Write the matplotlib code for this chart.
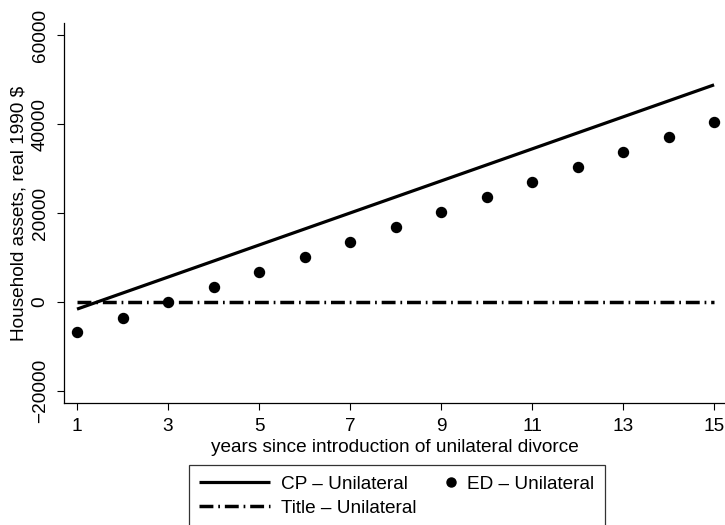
import numpy as np
import matplotlib.pyplot as plt
from matplotlib.lines import Line2D
from matplotlib.legend_handler import HandlerLine2D

plt.rcParams["font.family"] = ["Liberation Sans", "DejaVu Sans"]

years = [1, 2, 3, 4, 5, 6, 7, 8, 9, 10, 11, 12, 13, 14, 15]
cp_unilateral = [-1600, 2000, 5600, 9200, 12800, 16400, 20000, 23600,
                 27200, 30800, 34400, 38000, 41600, 45200, 48800]
ed_unilateral = [-6700, -3500, 0, 3400, 6800, 10100, 13500, 16900,
                 20200, 23600, 27000, 30300, 33700, 37100, 40400]
title_unilateral = [0, 0, 0, 0, 0, 0, 0, 0, 0, 0, 0, 0, 0, 0, 0]

x_ticks = [1, 3, 5, 7, 9, 11, 13, 15]
y_ticks = [-20000, 0, 20000, 40000, 60000]

FS = 13.7


# puts the legend marker at the right end of its handle box (Stata style)
class RightMarker(HandlerLine2D):
    def create_artists(self, legend, orig_handle, xdescent, ydescent,
                       width, height, fontsize, trans):
        m = Line2D([width - xdescent - 3], [height / 2 - ydescent],
                   marker="o", ls="none", color="black", ms=6.5, transform=trans)
        return [m]


fig = plt.figure(figsize=(7.25, 5.25), dpi=100)
ax = fig.add_axes([64 / 725, 122 / 525, 661 / 725, 380 / 525])

dashdot = (0, (4, 1.4, 0.5, 1.4))
ax.plot(years, cp_unilateral, color="black", lw=2.3, solid_capstyle="butt")
ax.plot(years, ed_unilateral, "o", color="black", ms=7.2)
ax.plot(years, title_unilateral, color="black", lw=2.5, linestyle=dashdot,
        dash_capstyle="butt")

ax.set_xlim(0.714, 15.24)
ax.set_ylim(-22700, 62700)
ax.set_xticks(x_ticks)
ax.set_yticks(y_ticks)
ax.set_yticklabels([f"\u2212{abs(v)}" if v < 0 else str(v) for v in y_ticks],
                   rotation=90, va="center")
ax.tick_params(axis="both", direction="out", length=5, width=0.8,
               labelsize=FS, pad=6)
for side in ["top", "right"]:
    ax.spines[side].set_visible(False)
for side in ["left", "bottom"]:
    ax.spines[side].set_linewidth(0.9)

ax.set_xlabel("years since introduction of unilateral divorce", fontsize=FS, labelpad=3)
ax.set_ylabel("Household assets, real 1990 $", fontsize=FS, labelpad=3)

h_cp = Line2D([], [], color="black", lw=2.3, solid_capstyle="butt")
h_title = Line2D([], [], color="black", lw=2.5, linestyle=dashdot, dash_capstyle="butt")
h_ed = Line2D([], [], marker="o", color="black", ls="none")
handles = [h_cp, h_title, h_ed]
labels = ["CP \u2013 Unilateral", "Title \u2013 Unilateral", "ED \u2013 Unilateral"]
leg = fig.legend(handles, labels, ncol=2, loc="upper left",
                 bbox_to_anchor=(189 / 725, 1 - 465 / 525),
                 handler_map={h_ed: RightMarker()},
                 fontsize=FS, frameon=True, fancybox=False, edgecolor="black",
                 handlelength=3.7, handletextpad=0.6, columnspacing=-1.66,
                 labelspacing=0.34, borderpad=0.55, borderaxespad=0)
leg.get_frame().set_linewidth(0.9)

fig.savefig("out.png", dpi=100)
